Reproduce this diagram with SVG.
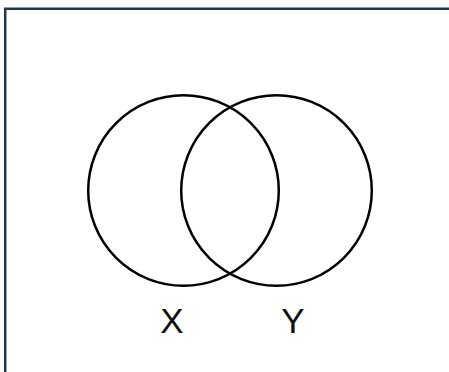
<svg xmlns="http://www.w3.org/2000/svg" width="449" height="372" viewBox="0 0 449 372">
<style>
.frame{stroke:#1d3849;stroke-width:2.5;fill:none}
.set{fill:none;stroke:#000;stroke-width:2.5}
.lbl{font-family:"Liberation Sans",Arial,sans-serif;font-size:35px;fill:#111;text-anchor:middle}
</style>
<rect width="449" height="372" fill="#fff"/>
<path class="frame" d="M5.2,372 V8.7 H449"/>
<g id="setX">
<circle class="set" cx="183.5" cy="190.5" r="95.3"/>
<text class="lbl" x="172" y="333">X</text>
</g>
<g id="setY">
<circle class="set" cx="276.5" cy="190.5" r="95.3"/>
<text class="lbl" x="293" y="333">Y</text>
</g>
<g id="connectors"/>
</svg>
